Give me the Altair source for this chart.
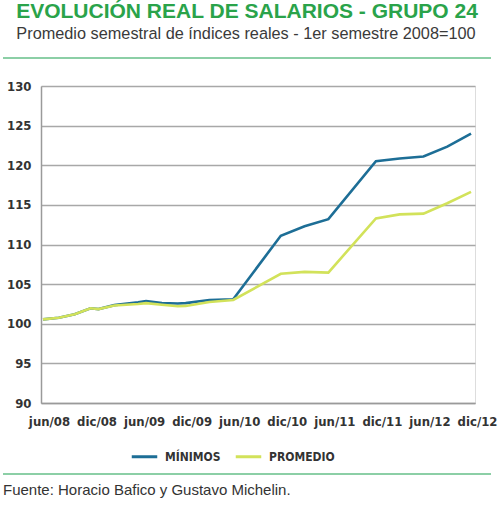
import altair as alt
import pandas as pd

# Month index from jun/08 (0) to dic/12 (54)
months = [0, 2, 4, 6, 7, 9, 12, 13, 15, 17, 18, 21, 24, 30, 33, 36, 42, 45, 48, 51, 54]
minimos = [100.55, 100.75, 101.2, 101.95, 101.85, 102.35, 102.7, 102.85, 102.6, 102.55,
           102.6, 103.0, 103.1, 111.1, 112.3, 113.2, 120.5, 120.85, 121.1, 122.35, 124.0]
promedio = [100.55, 100.75, 101.2, 101.95, 101.85, 102.3, 102.5, 102.6, 102.4, 102.2,
            102.25, 102.75, 103.0, 106.3, 106.55, 106.45, 113.3, 113.8, 113.9, 115.2, 116.65]

tick_months = [0, 6, 12, 18, 24, 30, 36, 42, 48, 54]
tick_labels = ["jun/08", "dic/08", "jun/09", "dic/09", "jun/10",
               "dic/10", "jun/11", "dic/11", "jun/12", "dic/12"]

series_names = ["MÍNIMOS", "PROMEDIO"]
series_colors = ["#1d6e96", "#d2e25a"]

rows = []
for m, a, b in zip(months, minimos, promedio):
    rows.append({"mes": m, "serie": series_names[0], "valor": a, "orden": 0})
    rows.append({"mes": m, "serie": series_names[1], "valor": b, "orden": 1})
df = pd.DataFrame(rows)

label_expr = "{" + ",".join(f"'{m}':'{l}'" for m, l in zip(tick_months, tick_labels)) + "}[datum.value]"

narrow = "Liberation Sans Narrow, DejaVu Sans Condensed, sans-serif"

lines = alt.Chart(df).mark_line(strokeWidth=2.6).encode(
    x=alt.X("mes:Q",
            scale=alt.Scale(domain=[-0.25, 54.5], nice=False, zero=False),
            axis=alt.Axis(values=tick_months, labelExpr=label_expr, title=None,
                          grid=False, ticks=False, domain=True, domainColor="#9a9a9a",
                          domainWidth=1.5, labelOffset=6, labelPadding=12,
                          labelFont=narrow, labelFontSize=13, labelFontWeight="bold",
                          labelColor="#333333", labelFlush=False)),
    y=alt.Y("valor:Q",
            scale=alt.Scale(domain=[90, 130], nice=False, zero=False),
            axis=alt.Axis(values=list(range(90, 131, 5)), title=None, grid=True,
                          gridColor="#a8a8a8", gridWidth=1.5, ticks=False, domain=True,
                          domainColor="#9a9a9a", domainWidth=1.5, labelPadding=10,
                          labelFont=narrow, labelFontSize=13, labelFontWeight="bold",
                          labelColor="#333333")),
    color=alt.Color("serie:N",
                    scale=alt.Scale(domain=series_names, range=series_colors),
                    legend=alt.Legend(title=None, orient="none", direction="horizontal",
                                      legendX=89, legendY=356, symbolType="stroke",
                                      symbolSize=650, symbolStrokeWidth=3,
                                      labelFont=narrow, labelFontSize=12,
                                      labelFontWeight="bold", labelColor="#333333",
                                      columnPadding=8, labelOffset=6)),
    order=alt.Order("orden:Q"),
    detail="serie:N",
)

one = pd.DataFrame({"k": [0]})

title = alt.Chart(one).mark_text(
    text="EVOLUCIÓN REAL DE SALARIOS - GRUPO 24", font="Liberation Sans",
    fontWeight="bold", fontSize=21, color="#2aa34a", align="center", baseline="middle"
).encode(x=alt.value(206), y=alt.value(-74))

subtitle = alt.Chart(one).mark_text(
    text="Promedio semestral de índices reales - 1er semestre 2008=100",
    font="Liberation Sans", fontSize=16.3, color="#3a3a3a", align="center", baseline="middle"
).encode(x=alt.value(205), y=alt.value(-52))

rule_top = alt.Chart(one).mark_rule(color="#8ccfa6", strokeWidth=2).encode(
    x=alt.value(-38), x2=alt.value(450), y=alt.value(-28))

rule_bottom = alt.Chart(one).mark_rule(color="#8ccfa6", strokeWidth=2).encode(
    x=alt.value(-38), x2=alt.value(450), y=alt.value(388))

footer = alt.Chart(one).mark_text(
    text="Fuente: Horacio Bafico y Gustavo Michelin.", font="Liberation Sans",
    fontSize=15, color="#333333", align="left", baseline="middle"
).encode(x=alt.value(-38), y=alt.value(404))

chart = alt.layer(lines, title, subtitle, rule_top, rule_bottom, footer).properties(
    width=434, height=317,
    autosize=alt.AutoSizeParams(type="none"),
    padding={"left": 41, "top": 86, "right": 25, "bottom": 111},
).configure_view(stroke=None).configure(background="white")

chart.save("out.html", embed_options={"renderer": "svg", "actions": False})
